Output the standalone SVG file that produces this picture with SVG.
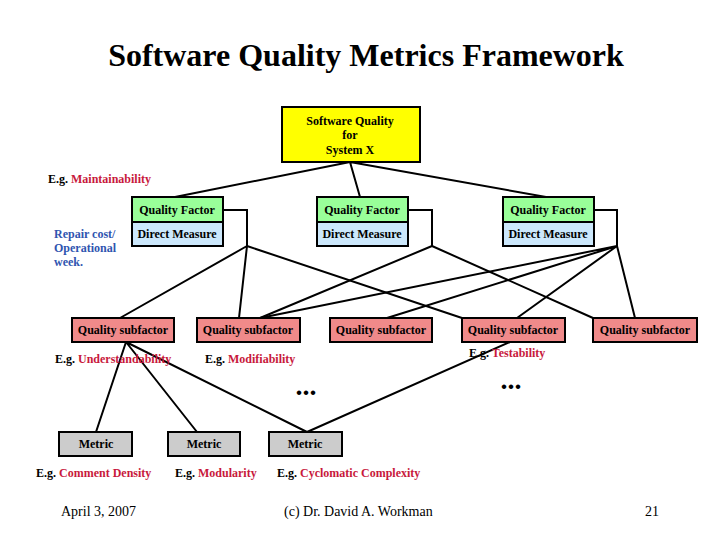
<svg xmlns="http://www.w3.org/2000/svg" width="720" height="540" viewBox="0 0 720 540">
<style>
text{font-family:"Liberation Serif","Times New Roman",serif;}
.b{font-weight:bold;font-size:12px;}
.c{text-anchor:middle;}
.box{stroke:#000;stroke-width:2;}
.red{fill:#c8193c;}
.blue{fill:#2f55b0;}
.ln{stroke:#000;stroke-width:2;fill:none;}
.dots{font-size:28px;font-weight:bold;text-anchor:middle;}
</style>
<rect width="720" height="540" fill="#fff"/>
<text x="366" y="66" class="c" style="font-size:32px;font-weight:bold">Software Quality Metrics Framework</text>

<g id="connectors">
<path class="ln" d="M350 162L175 197M350 162L360 197M350 162L546 197"/>
<path class="ln" d="M223 210H247V246M408 210H432V246M594 210H617V246"/>
<path class="ln" d="M247 246L120 318M247 246L239 318M247 246L462 318"/>
<path class="ln" d="M432 246L260 318M432 246L593 318"/>
<path class="ln" d="M617 246L260 318M617 246L387 318M617 246L517 318M617 246L635 318"/>
<path class="ln" d="M126 342L96 432M126 342L197 432M126 342L307 432M510 342L307 432"/>
</g>

<g id="root">
<rect class="box" x="282" y="107" width="138" height="55" fill="#ffff00"/>
<text class="b c" x="350" y="125">Software Quality</text>
<text class="b c" x="350" y="139">for</text>
<text class="b c" x="350" y="154">System X</text>
</g>

<g id="factor1">
<rect class="box" x="132" y="197" width="91" height="25" fill="#99ff99"/>
<rect class="box" x="132" y="222" width="91" height="24" fill="#cce8fc"/>
<text class="b c" x="177" y="214">Quality Factor</text>
<text class="b c" x="177" y="238">Direct Measure</text>
</g>
<g id="factor2">
<rect class="box" x="317" y="197" width="91" height="25" fill="#99ff99"/>
<rect class="box" x="317" y="222" width="91" height="24" fill="#cce8fc"/>
<text class="b c" x="362" y="214">Quality Factor</text>
<text class="b c" x="362" y="238">Direct Measure</text>
</g>
<g id="factor3">
<rect class="box" x="503" y="197" width="91" height="25" fill="#99ff99"/>
<rect class="box" x="503" y="222" width="91" height="24" fill="#cce8fc"/>
<text class="b c" x="548" y="214">Quality Factor</text>
<text class="b c" x="548" y="238">Direct Measure</text>
</g>

<g id="sf1"><rect class="box" x="72" y="318" width="102" height="24" fill="#f08a8a"/><text class="b c" x="123" y="334">Quality subfactor</text></g>
<g id="sf2"><rect class="box" x="197" y="318" width="103" height="24" fill="#f08a8a"/><text class="b c" x="248" y="334">Quality subfactor</text></g>
<g id="sf3"><rect class="box" x="330" y="318" width="102" height="24" fill="#f08a8a"/><text class="b c" x="381" y="334">Quality subfactor</text></g>
<g id="sf4"><rect class="box" x="462" y="318" width="103" height="24" fill="#f08a8a"/><text class="b c" x="513" y="334">Quality subfactor</text></g>
<g id="sf5"><rect class="box" x="593" y="318" width="104" height="24" fill="#f08a8a"/><text class="b c" x="645" y="334">Quality subfactor</text></g>

<g id="m1"><rect class="box" x="59" y="432" width="73" height="24" fill="#cccccc"/><text class="b c" x="96" y="448">Metric</text></g>
<g id="m2"><rect class="box" x="168" y="432" width="72" height="24" fill="#cccccc"/><text class="b c" x="204" y="448">Metric</text></g>
<g id="m3"><rect class="box" x="269" y="432" width="73" height="24" fill="#cccccc"/><text class="b c" x="305" y="448">Metric</text></g>

<g id="labels">
<text class="b" x="48" y="183">E.g. <tspan class="red">Maintainability</tspan></text>
<text class="b blue" x="54" y="238">Repair cost/</text>
<text class="b blue" x="54" y="252">Operational</text>
<text class="b blue" x="54" y="266">week.</text>
<text class="b" x="55" y="363">E.g. <tspan class="red">Understandability</tspan></text>
<text class="b" x="205" y="363">E.g. <tspan class="red">Modifiability</tspan></text>
<text class="b" x="469" y="357">E.g. <tspan class="red">Testability</tspan></text>
<text class="b" x="36" y="477">E.g. <tspan class="red">Comment Density</tspan></text>
<text class="b" x="175" y="477">E.g. <tspan class="red">Modularity</tspan></text>
<text class="b" x="277" y="477">E.g. <tspan class="red">Cyclomatic Complexity</tspan></text>
<text class="dots" x="306" y="395">...</text>
<text class="dots" x="511" y="389">...</text>
<text x="61" y="516" style="font-size:14px">April 3, 2007</text>
<text x="284" y="516" style="font-size:14px">(c) Dr. David A. Workman</text>
<text x="645" y="516" style="font-size:14px">21</text>
</g>
</svg>
